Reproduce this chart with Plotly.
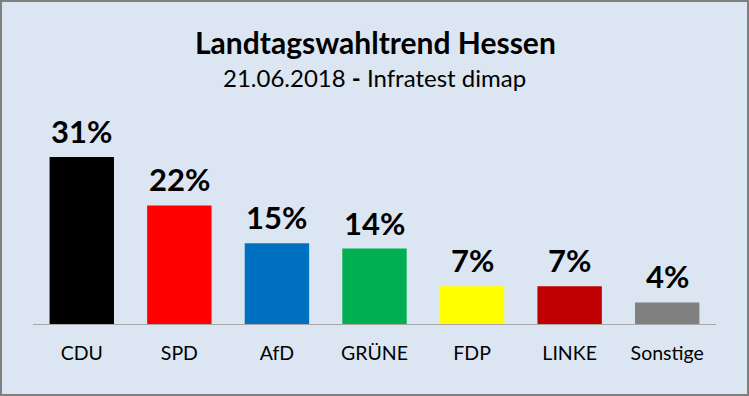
import plotly.graph_objects as go

parties = ["CDU", "SPD", "AfD", "GRÜNE", "FDP", "LINKE", "Sonstige"]
values = [31, 22, 15, 14, 7, 7, 4]
colors = ["#000000", "#ff0000", "#0070c0", "#00b050", "#ffff00", "#c00000", "#808080"]
labels = [f"{v}%" for v in values]
title_text = "Landtagswahltrend Hessen"
subtitle_text = "21.06.2018 <b>-</b> Infratest dimap"

W, H = 749, 396
ml, mr, mt, mb = 33, 33, 100, 72
FONT = "Lato, 'Open Sans', sans-serif"
pw = W - ml - mr
ph = H - mt - mb


def py(pix):
    return (H - mb - pix) / ph


fig = go.Figure(go.Bar(
    x=parties, y=values, marker=dict(color=colors, line=dict(width=0)),
    width=0.66, hoverinfo="skip",
))

for p, v, t in zip(parties, values, labels):
    fig.add_annotation(x=p, y=v, text=f"<b>{t}</b>", showarrow=False,
                       yanchor="bottom", yshift=5,
                       font=dict(size=31, color="#000000", family=FONT))

fig.add_annotation(xref="paper", yref="paper", x=(375 - ml) / pw, y=py(42),
                   text=f"<b>{title_text}</b>", showarrow=False,
                   xanchor="center", yanchor="middle",
                   font=dict(size=30, color="#000000", family=FONT))
fig.add_annotation(xref="paper", yref="paper", x=(374 - ml) / pw, y=py(77),
                   text=subtitle_text, showarrow=False,
                   xanchor="center", yanchor="middle",
                   font=dict(size=24, color="#000000", family=FONT))

fig.add_shape(type="rect", xref="paper", yref="paper",
              x0=-(ml - 1) / pw, x1=1 + (mr - 1) / pw,
              y0=-(mb - 1) / ph, y1=1 + (mt - 1) / ph,
              line=dict(color="#7f7f7f", width=2), layer="above")

fig.update_layout(
    width=W, height=H,
    margin=dict(l=ml, r=mr, t=mt, b=mb),
    paper_bgcolor="#dce6f2", plot_bgcolor="#dce6f2",
    showlegend=False,
    font=dict(family=FONT, color="#000000"),
    bargap=0.34,
)
fig.update_xaxes(showline=True, linecolor="#a6a6a6", linewidth=1,
                 tickfont=dict(size=19.5, color="#000000", family=FONT),
                 ticks="", ticklabelstandoff=12, showgrid=False, zeroline=False,
                 fixedrange=True)
fig.update_yaxes(range=[0, ph / 5.39], visible=False, showgrid=False,
                 zeroline=False, fixedrange=True)

fig.write_html("out.html", config={"displayModeBar": False},
               post_script="document.body.style.margin='0';document.body.style.overflow='hidden';")
